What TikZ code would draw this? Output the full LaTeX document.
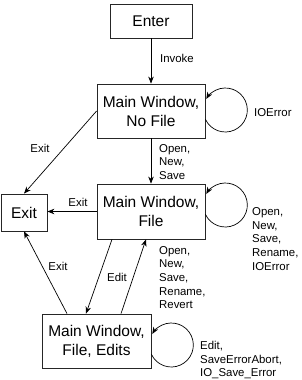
\documentclass[tikz,border=0pt]{standalone}
\usepackage{fontspec}
\setmainfont{Liberation Sans}
\usetikzlibrary{arrows.meta,calc,positioning}

\begin{document}
\begin{tikzpicture}[x=1pt,y=1pt,
    statebox/.style={draw=black!85,line width=0.8pt,align=center,inner sep=0pt,
      font=\fontsize{15.5}{19}\selectfont},
    translabel/.style={align=left,inner sep=0pt,font=\fontsize{11.4}{13.7}\selectfont},
    trans/.style={-{Stealth[length=7pt,width=5.5pt]},line width=0.7pt}]
    \useasboundingbox (0,0) rectangle (302,-380);
    % states
    \node[statebox,minimum width=82pt,minimum height=34pt] (enter) at (151,-21) {Enter};
    \node[statebox,minimum width=108pt,minimum height=54pt] (nofile) at (151,-111) {Main Window,\\No File};
    \node[statebox,minimum width=108pt,minimum height=55pt] (file) at (151,-211.5) {Main Window,\\File};
    \node[statebox,minimum width=46pt,minimum height=37pt] (exitbox) at (24,-212.5) {Exit};
    \node[statebox,minimum width=109pt,minimum height=54pt] (edits) at (96.5,-341) {Main Window,\\File, Edits};
    % transitions
    \draw[trans] (enter.south) -- (nofile.north);
    \draw[trans] (nofile.south) -- (file.north);
    \draw[trans] (nofile.west) -- (exitbox.north);
    \draw[trans] (file.west) -- (file.west -| exitbox.east);
    \draw[trans] ([xshift=-39pt]file.south) -- ([xshift=-10.5pt]edits.north);
    \draw[trans] ([xshift=24.5pt]edits.north) -- ([xshift=-5pt]file.south);
    \draw[trans] ([xshift=-29.5pt]edits.north) -- (exitbox.south);
    % self loops
    \draw[trans] ([yshift=-8.3pt]nofile.east) arc[start angle=205,end angle=510,radius=22];
    \draw[trans] ([yshift=-2.8pt]file.east) arc[start angle=205,end angle=510,radius=22];
    \draw[trans] ([yshift=-13.3pt]edits.east) arc[start angle=205,end angle=510,radius=22];
    % labels
    \node[translabel,anchor=west] (invokelbl) at (160,-58) {Invoke};
    \node[translabel,anchor=west] (openlbl) at (159,-162) {Open,\\New,\\Save};
    \node[translabel] (exitlbla) at (40,-148) {Exit};
    \node[translabel] (exitlblb) at (78,-202) {Exit};
    \node[translabel] (exitlblc) at (58,-266) {Exit};
    \node[translabel] (editlbl) at (117,-277) {Edit};
    \node[translabel,anchor=west] (revertlbl) at (159,-277.5) {Open,\\New,\\Save,\\Rename,\\Revert};
    \node[translabel,anchor=west] (ioerrlbl) at (254,-113) {IOError};
    \node[translabel,anchor=west] (fileloopl) at (252,-239) {Open,\\New,\\Save,\\Rename,\\IOError};
    \node[translabel,anchor=west] (editsloopl) at (200,-360) {Edit,\\SaveErrorAbort,\\IO\_Save\_Error};
\end{tikzpicture}
\end{document}
